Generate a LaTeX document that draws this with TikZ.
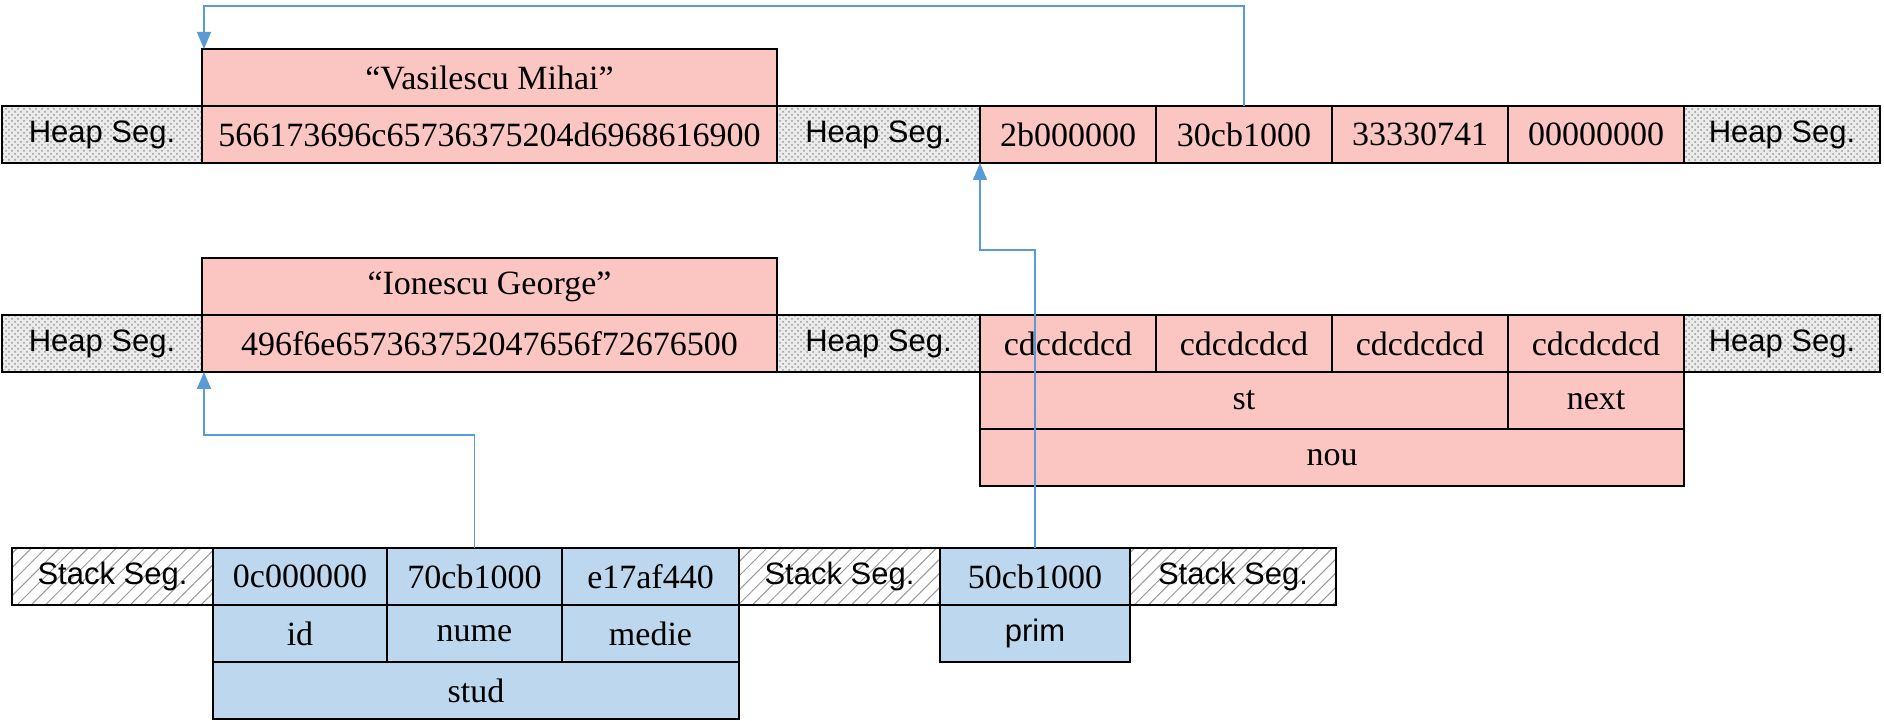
\documentclass[tikz,border=0pt]{standalone}
\usepackage{fontspec}
\setmainfont{Liberation Serif}
\setsansfont{Liberation Sans}
\usepackage{tikz}
\usetikzlibrary{arrows.meta, positioning, patterns, patterns.meta}
\usepackage{xcolor}
\definecolor{heapred}{RGB}{251,198,193}
\definecolor{stackblue}{RGB}{189,215,238}
\definecolor{ptrblue}{RGB}{91,155,213}
\tikzset{
  cell/.style    ={draw, minimum height=28.5pt, inner sep=0pt, outer sep=0pt,
                   line width=0.8pt, font=\fontsize{17}{20}\selectfont},
  hcell/.style   ={cell, fill=heapred},
  scell/.style   ={cell, fill=stackblue},
  segfont/.style ={font=\sffamily\fontsize{15.5}{18}\selectfont},
  heapseg/.style ={cell, segfont, preaction={fill=black!8},
                   pattern=crosshatch dots, pattern color=black!40},
  stackseg/.style={cell, segfont, preaction={fill=white},
                   pattern={Lines[angle=45, distance=5pt, line width=0.5pt]},
                   pattern color=black!40},
  ptr/.style     ={-{Triangle[length=8.5pt, width=7pt]}, draw=ptrblue,
                   line width=0.75pt},
}
\begin{document}
\begin{tikzpicture}[x=0.5pt, y=-0.5pt]
  \useasboundingbox (0,0) rectangle (1884,721);
  % heap, first row
  \node[heapseg, minimum width=100pt, anchor=north west] (h1a) at (2,106) {Heap Seg.};
  \node[hcell, minimum width=287.5pt, right=0pt of h1a] (h1long)
    {566173696c65736375204d6968616900};
  \node[heapseg, minimum width=101.5pt, right=0pt of h1long] (h1b) {Heap Seg.};
  \node[hcell, minimum width=88pt, right=0pt of h1b] (h1c1) {2b000000};
  \node[hcell, minimum width=88pt, right=0pt of h1c1] (h1c2) {30cb1000};
  \node[hcell, minimum width=88pt, right=0pt of h1c2] (h1c3) {33330741};
  \node[hcell, minimum width=88pt, right=0pt of h1c3] (h1c4) {00000000};
  \node[heapseg, minimum width=98pt, right=0pt of h1c4] (h1d) {Heap Seg.};
  \node[hcell, minimum width=287.5pt, above=0pt of h1long] (vas) {“Vasilescu Mihai”};
  % heap, second row
  \node[heapseg, minimum width=100pt, anchor=north west] (h2a) at (2,315) {Heap Seg.};
  \node[hcell, minimum width=287.5pt, right=0pt of h2a] (h2long)
    {496f6e657363752047656f72676500};
  \node[heapseg, minimum width=101.5pt, right=0pt of h2long] (h2b) {Heap Seg.};
  \node[hcell, minimum width=88pt, right=0pt of h2b] (h2c1) {cdcdcdcd};
  \node[hcell, minimum width=88pt, right=0pt of h2c1] (h2c2) {cdcdcdcd};
  \node[hcell, minimum width=88pt, right=0pt of h2c2] (h2c3) {cdcdcdcd};
  \node[hcell, minimum width=88pt, right=0pt of h2c3] (h2c4) {cdcdcdcd};
  \node[heapseg, minimum width=98pt, right=0pt of h2c4] (h2d) {Heap Seg.};
  \node[hcell, minimum width=287.5pt, above=0pt of h2long] (ion) {“Ionescu George”};
  \node[hcell, minimum width=264pt, anchor=north west] (st) at (h2c1.south west) {st};
  \node[hcell, minimum width=88pt, right=0pt of st] (next) {next};
  \node[hcell, minimum width=352pt, anchor=north west] (nou) at (st.south west) {nou};
  % stack
  \node[stackseg, minimum width=100.5pt, anchor=north west] (s1) at (12,548) {Stack Seg.};
  \node[scell, minimum width=87pt, right=0pt of s1] (s0c) {0c000000};
  \node[scell, minimum width=87.5pt, right=0pt of s0c] (s70) {70cb1000};
  \node[scell, minimum width=88.5pt, right=0pt of s70] (se17) {e17af440};
  \node[stackseg, minimum width=100.5pt, right=0pt of se17] (s2) {Stack Seg.};
  \node[scell, minimum width=95pt, right=0pt of s2] (s50) {50cb1000};
  \node[stackseg, minimum width=103pt, right=0pt of s50] (s3) {Stack Seg.};
  \node[scell, minimum width=87pt, anchor=north west] (id) at (s0c.south west) {id};
  \node[scell, minimum width=87.5pt, right=0pt of id] (nume) {nume};
  \node[scell, minimum width=88.5pt, right=0pt of nume] (medie) {medie};
  \node[scell, minimum width=263pt, anchor=north west] (stud) at (id.south west) {stud};
  \node[scell, segfont, minimum width=95pt, anchor=north west] (prim) at (s50.south west) {prim};
  % pointers
  \draw[ptr] (h1c2.north) -- ++(0,-100) -| ([xshift=1pt]vas.north west);
  \draw[ptr] (s70.north) -- ++(0,-113) -| ([xshift=1pt]h2long.south west);
  \draw[ptr] (s50.north) -- ++(0,-298) -| (h1c1.south west);
\end{tikzpicture}
\end{document}
